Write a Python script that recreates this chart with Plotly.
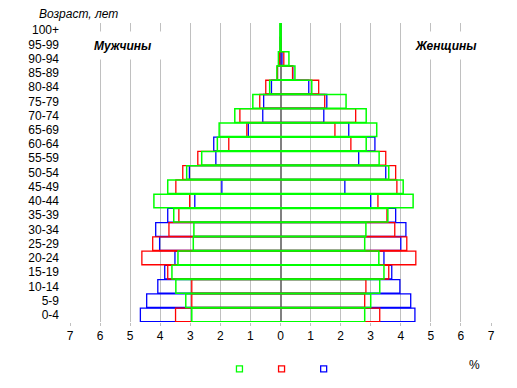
import plotly.graph_objects as go

ages = ["0-4", "5-9", "10-14", "15-19", "20-24", "25-29", "30-34", "35-39", "40-44",
        "45-49", "50-54", "55-59", "60-64", "65-69", "70-74", "75-79", "80-84",
        "85-89", "90-94", "95-99", "100+"]

male_green = [2.95, 3.15, 3.48, 3.61, 3.41, 2.90, 2.88, 3.55, 4.21, 3.75, 3.12, 2.62, 2.10, 2.04, 1.52, 0.92, 0.36, 0.12, 0.07, 0.02, 0.02]
male_red = [3.49, 2.95, 2.95, 3.75, 4.61, 4.25, 3.71, 3.38, 3.02, 3.48, 3.25, 2.75, 1.72, 1.12, 1.35, 0.69, 0.49, 0.10, 0.03, 0.01, 0.0]
male_blue = [4.66, 4.45, 4.08, 3.85, 3.51, 4.02, 4.15, 3.75, 2.85, 1.95, 3.03, 2.15, 2.22, 1.07, 0.59, 0.56, 0.30, 0.10, 0.02, 0.01, 0.0]
female_green = [2.80, 3.00, 3.30, 3.44, 3.27, 2.80, 2.84, 3.57, 4.41, 4.08, 3.60, 3.28, 2.85, 3.20, 2.85, 2.18, 1.04, 0.48, 0.28, 0.02, 0.02]
female_red = [3.30, 2.80, 2.84, 3.60, 4.50, 4.20, 3.80, 3.54, 3.24, 3.87, 3.83, 3.50, 2.34, 1.81, 2.50, 1.47, 1.27, 0.40, 0.11, 0.01, 0.0]
female_blue = [4.47, 4.33, 3.97, 3.70, 3.44, 4.00, 4.17, 3.83, 3.00, 2.14, 3.50, 2.60, 3.14, 2.27, 1.44, 1.54, 0.94, 0.41, 0.05, 0.01, 0.0]

tick_vals = [-7, -6, -5, -4, -3, -2, -1, 0, 1, 2, 3, 4, 5, 6, 7]
tick_text = ["7", "6", "5", "4", "3", "2", "1", "0", "1", "2", "3", "4", "5", "6", "7"]

series = [
    ("blue", "#0000ff", male_blue, female_blue, 1.3),
    ("red", "#ff0000", male_red, female_red, 1.3),
    ("green", "#00ff00", male_green, female_green, 1.5),
]

fig = go.Figure()
for name, color, m, f, lw in series:
    # one rectangle per age group spanning from -male share to +female share
    fig.add_trace(go.Bar(
        y=ages, x=[mv + fv for mv, fv in zip(m, f)], base=[-mv for mv in m],
        orientation="h",
        marker=dict(color="rgba(0,0,0,0)", line=dict(color=color, width=lw)),
        showlegend=False, hoverinfo="skip"))

legend_pos = {"green": 0.355, "red": 0.455, "blue": 0.555}
legend_ids = {"green": "legend", "red": "legend2", "blue": "legend3"}
for name, color, m, f, lw in reversed(series):
    fig.add_trace(go.Scatter(
        x=[None], y=[None], mode="markers", name=" ", legend=legend_ids[name],
        marker=dict(symbol="square-open", size=6, color=color, line=dict(width=1.3, color=color)),
        showlegend=True))

font = "Arial, Liberation Sans, sans-serif"
leg_common = dict(orientation="h", y=-0.157, yanchor="middle", xanchor="left",
                  itemwidth=30, font=dict(size=10), bgcolor="rgba(0,0,0,0)")
fig.update_layout(
    width=517, height=388,
    margin=dict(l=62, r=34, t=15, b=74),
    paper_bgcolor="white", plot_bgcolor="white",
    barmode="overlay", bargap=0.04,
    font=dict(family=font, size=12, color="black"),
    showlegend=True,
    legend=dict(x=legend_pos["green"], **leg_common),
    legend2=dict(x=legend_pos["red"], **leg_common),
    legend3=dict(x=legend_pos["blue"], **leg_common),
    xaxis=dict(range=[-7, 7], tickvals=tick_vals, ticktext=tick_text,
               showgrid=True, gridcolor="#c0c0c0", gridwidth=1,
               zeroline=True, zerolinecolor="#808080", zerolinewidth=1.5,
               ticks="outside", ticklen=3, tickcolor="#c0c0c0",
               showline=False, tickfont=dict(size=12, color="black"),
               automargin=False, fixedrange=True),
    yaxis=dict(categoryorder="array", categoryarray=ages, range=[-0.5, 20.5],
               tickmode="array", tickvals=ages, ticktext=ages,
               showgrid=False, zeroline=False, showline=False, ticks="",
               ticklabelstandoff=10, tickfont=dict(size=12, color="black"),
               automargin=False),
    annotations=[
        dict(text="<i>Возраст, лет</i>", xref="paper", yref="paper", x=0.021, y=1.03,
             xanchor="center", yanchor="middle",
             showarrow=False, font=dict(size=12, color="black")),
        dict(text="<b><i>Мужчины</i></b>", xref="paper", yref="paper", x=0.126, y=0.926,
             xanchor="center", yanchor="middle",
             showarrow=False, bgcolor="white", width=80, height=25,
             font=dict(size=12, color="black")),
        dict(text="<b><i>Женщины</i></b>", xref="paper", yref="paper", x=0.893, y=0.926,
             xanchor="center", yanchor="middle",
             showarrow=False, bgcolor="white", width=80, height=25,
             font=dict(size=12, color="black")),
        dict(text="%", xref="paper", yref="paper", x=0.96, y=-0.144,
             xanchor="center", yanchor="middle",
             showarrow=False, font=dict(size=12, color="black")),
    ],
)

fig.write_html("out.html")
